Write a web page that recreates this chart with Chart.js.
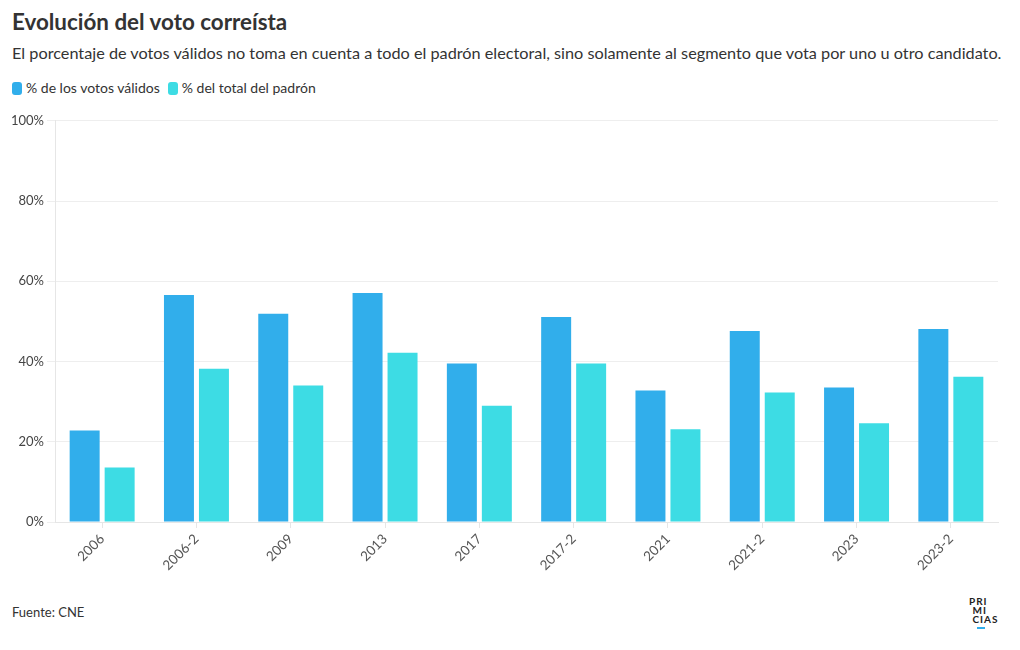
<!DOCTYPE html>
<html>
<head>
<meta charset="utf-8">
<script src="https://cdn.jsdelivr.net/npm/chart.js@4"></script>
<style>
  body { margin: 0; background: #fff; font-family: Lato, sans-serif; color: #333; width: 1020px; height: 650px; position: relative; overflow: hidden; }
  #title { position: absolute; left: 12px; top: 8px; font-size: 22.4px; font-weight: bold; color: #333; }
  #sub { position: absolute; left: 12px; top: 43px; font-size: 16.25px; color: #333; white-space: nowrap; }
  #legend { position: absolute; left: 12px; top: 79px; font-size: 14px; color: #333; }
  #legend span.sw { display: inline-block; width: 10px; height: 13px; border-radius: 3px; vertical-align: -2px; margin-right: 4px; }
  #legend span.it { margin-right: 8px; }
  #wrap { position: absolute; left: 0; top: 110px; width: 1020px; height: 480px; }
  #foot { position: absolute; left: 12px; top: 604px; font-size: 13px; color: #333; }
  #logo { position: absolute; left: 969px; top: 597px; font-size: 10px; font-weight: bold; line-height: 9px; color: #222; letter-spacing: 1px; }
  #logo .bar { width: 8px; height: 2px; background: #31aeeb; margin: 3px 0 0 8px; }
</style>
</head>
<body>
<div id="title">Evolución del voto correísta</div>
<div id="sub">El porcentaje de votos válidos no toma en cuenta a todo el padrón electoral, sino solamente al segmento que vota por uno u otro candidato.</div>
<div id="legend"><span class="sw" style="background:#31aeeb"></span><span class="it">% de los votos válidos</span><span class="sw" style="background:#3ddce4"></span><span class="it">% del total del padrón</span></div>
<div id="wrap"><canvas id="myChart"></canvas></div>
<div id="foot">Fuente: CNE</div>
<div id="logo">PRI<br>&nbsp;MI<br>&nbsp;CIAS<div class="bar"></div></div>
<script>
let labels = ['2006', '2006-2', '2009', '2013', '2017', '2017-2', '2021', '2021-2', '2023', '2023-2'];
let validos = [22.8, 56.6, 51.9, 57.1, 39.5, 51.1, 32.8, 47.6, 33.5, 48.1];
let padron = [13.6, 38.2, 34.0, 42.2, 29.0, 39.5, 23.1, 32.3, 24.6, 36.2];
let yTicks = [0, 20, 40, 60, 80, 100];

const data = {
    labels: labels,
    datasets: [{
        label: '% de los votos válidos',
        backgroundColor: '#31aeeb',
        data: validos,
    }, {
        label: '% del total del padrón',
        backgroundColor: '#3ddce4',
        data: padron,
    }]
};

const config = {
    type: 'bar',
    data: data,
    options: {
        responsive: true,
        maintainAspectRatio: false,
        animation: false,
        categoryPercentage: 0.742,
        barPercentage: 0.857,
        layout: { padding: { top: 9, right: 22, left: 0, bottom: 0 } },
        plugins: {
            legend: { display: false },
            tooltip: { enabled: false }
        },
        scales: {
            x: {
                grid: { display: true, drawOnChartArea: false, offset: false, color: '#e6e6e6', tickLength: 6 },
                border: { color: '#e6e6e6' },
                ticks: {
                    color: '#555',
                    font: { family: 'Lato', size: 13.5 },
                    maxRotation: 45,
                    minRotation: 45
                },
                afterFit: function (scale) { scale.height = 68; }
            },
            y: {
                min: 0,
                max: 100,
                afterBuildTicks: function (scale) { scale.ticks = yTicks.map(v => ({ value: v })); },
                grid: { color: '#eeeeee', tickLength: 8 },
                border: { color: '#e6e6e6' },
                ticks: {
                    color: '#444',
                    padding: 3,
                    font: { family: 'Lato', size: 13 },
                    callback: function (v) { return v + '%'; }
                },
                afterFit: function (scale) { scale.width = 55; }
            }
        }
    }
};

let myChart = new Chart(document.getElementById('myChart'), config);
</script>
</body>
</html>
